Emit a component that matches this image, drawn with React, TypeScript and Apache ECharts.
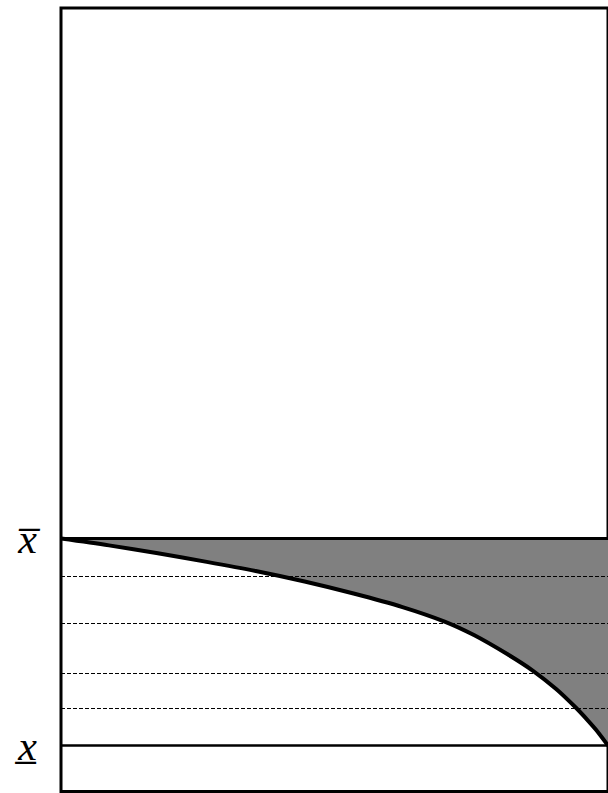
import React, { useEffect, useRef } from "react";
import * as echarts from "echarts";

// Curve (x in [0,1] across the box, y: 0 = lower level, 1 = upper level)
const curveX = [
  0, 0.0877, 0.1771, 0.2665, 0.356, 0.4454, 0.5349, 0.6243, 0.7013, 0.7549,
  0.8157, 0.8623, 0.9052, 0.941, 0.9642, 0.9785, 1,
];
const curveY = [
  1, 0.9671, 0.9285, 0.8874, 0.843, 0.7923, 0.7343, 0.6691, 0.599, 0.5338,
  0.442, 0.3623, 0.2729, 0.1836, 0.1184, 0.0749, 0,
];

// Horizontal reference levels
const upperLevel = 1;
const lowerLevel = 0;
const dashedLevels = [0.819, 0.587, 0.355, 0.176];
const upperLabel = "x\u0305";
const lowerLabel = "x\u0332";

export default function App() {
  const ref = useRef<HTMLDivElement>(null);
  useEffect(() => {
    if (!ref.current) return;
    const chart = echarts.init(ref.current, undefined, { renderer: "svg" });
    const data = curveX.map((x, i) => [x, curveY[i]]);
    const labelStyle = {
      show: true,
      position: "start",
      distance: 24,
      color: "#000",
      fontFamily: "Liberation Serif",
      fontStyle: "italic",
      fontSize: 42,
    };
    chart.setOption({
      animation: false,
      grid: {
        left: 61,
        top: 8,
        right: -12,
        bottom: 1.5,
        show: true,
        borderColor: "#000",
        borderWidth: 3,
        backgroundColor: "transparent",
      },
      xAxis: { type: "value", min: 0, max: 1, show: false },
      yAxis: { type: "value", min: -0.222, max: 3.563, show: false },
      series: [
        {
          type: "line",
          data,
          smooth: 0.3,
          symbol: "none",
          lineStyle: { width: 0 },
          areaStyle: { color: "#808080", opacity: 1, origin: upperLevel },
          z: 1,
          silent: true,
        },
        {
          type: "line",
          data: [[0, 0]],
          symbol: "none",
          lineStyle: { width: 0 },
          z: 2,
          silent: true,
          markLine: {
            symbol: ["none", "none"],
            silent: true,
            animation: false,
            data: [
              {
                yAxis: upperLevel,
                lineStyle: { color: "#000", width: 3, type: "solid" },
                label: { ...labelStyle, formatter: upperLabel },
              },
              {
                yAxis: lowerLevel,
                lineStyle: { color: "#000", width: 2.5, type: "solid" },
                label: { ...labelStyle, formatter: lowerLabel },
              },
              ...dashedLevels.map((v) => ({
                yAxis: v,
                lineStyle: { color: "#000", width: 1, type: [4, 2] },
                label: { show: false },
              })),
            ],
          },
        },
        {
          type: "line",
          data,
          smooth: 0.3,
          symbol: "none",
          lineStyle: { color: "#000", width: 4 },
          z: 3,
          silent: true,
        },
      ],
    });
    return () => chart.dispose();
  }, []);
  return (
    <div
      ref={ref}
      style={{ position: "absolute", left: 0, top: 0, width: 608, height: 793, background: "#fff" }}
    />
  );
}
